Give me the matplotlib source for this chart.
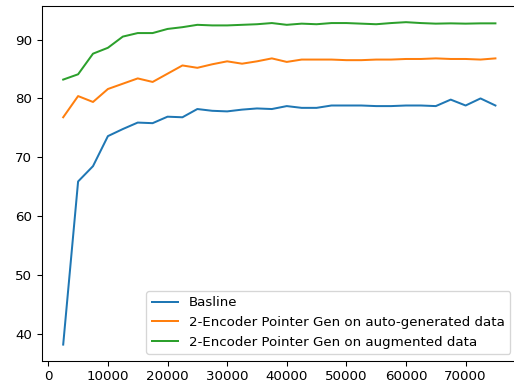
import matplotlib
matplotlib.use('Agg')
import matplotlib.pyplot as plt

steps = [2500 * k for k in range(1, 31)]

baseline = [38.2, 65.9, 68.5, 73.6, 74.8, 75.9, 75.8, 76.9, 76.8, 78.2,
            77.9, 77.8, 78.1, 78.3, 78.2, 78.7, 78.4, 78.4, 78.8, 78.8,
            78.8, 78.7, 78.7, 78.8, 78.8, 78.7, 79.8, 78.8, 80.0, 78.8]
auto_gen = [76.8, 80.4, 79.4, 81.6, 82.5, 83.4, 82.8, 84.2, 85.6, 85.2,
            85.8, 86.3, 85.9, 86.3, 86.8, 86.2, 86.6, 86.6, 86.6, 86.5,
            86.5, 86.6, 86.6, 86.7, 86.7, 86.8, 86.7, 86.7, 86.6, 86.8]
augmented = [83.2, 84.1, 87.6, 88.6, 90.5, 91.1, 91.1, 91.8, 92.1, 92.5,
             92.4, 92.4, 92.5, 92.6, 92.8, 92.5, 92.7, 92.6, 92.8, 92.8,
             92.7, 92.6, 92.8, 92.95, 92.8, 92.7, 92.75, 92.7, 92.75, 92.75]
labels = ['Basline',
          '2-Encoder Pointer Gen on auto-generated data',
          '2-Encoder Pointer Gen on augmented data']

# reference looks like a default figure scaled down a bit, so render at dpi 96
fig = plt.figure(figsize=(514 / 96, 383 / 96), dpi=96)
ax = fig.add_axes([0.0809, 0.0582, 0.925, 0.926])
for series, label in zip([baseline, auto_gen, augmented], labels):
    ax.plot(steps, series, label=label)
ax.legend(loc='lower right')
fig.savefig('out.png', dpi=96)
